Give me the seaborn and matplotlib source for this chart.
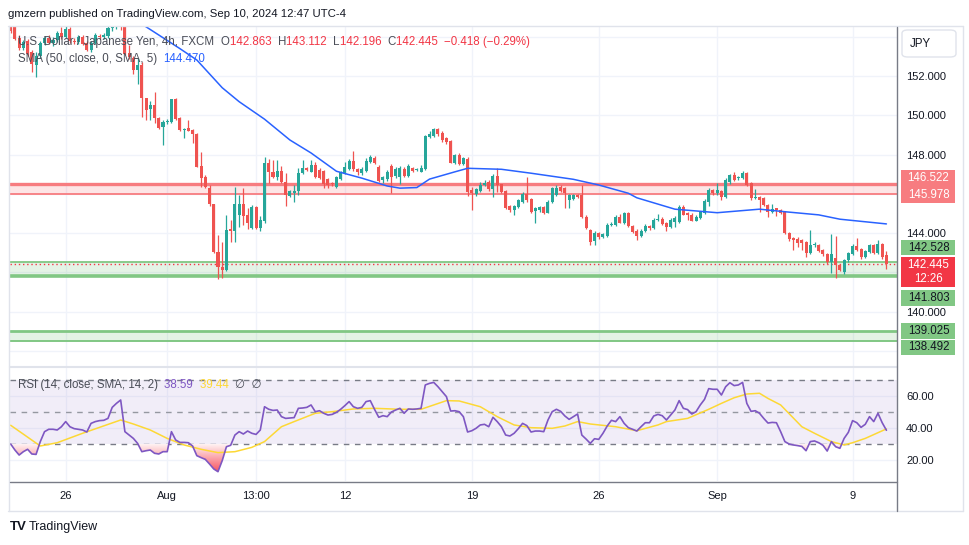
import numpy as np
import matplotlib
matplotlib.use("Agg")
import matplotlib.pyplot as plt
import seaborn as sns
from matplotlib.lines import Line2D
from matplotlib.patches import Rectangle, FancyBboxPatch
from matplotlib.path import Path
from matplotlib.colors import LinearSegmentedColormap
from matplotlib.offsetbox import TextArea, HPacker, AnnotationBbox

sns.set_theme(style="white")
plt.rcParams["font.family"] = ["Liberation Sans", "DejaVu Sans"]

# USD/JPY 4h candles (FXCM)
opens = [
    154.6, 154.5, 153.95, 153.4, 153.8, 153.2, 152.55, 153.0, 153.7, 153.95,
    153.7, 153.85, 154.2, 154.0, 154.4, 153.8, 153.75, 154.0, 153.7, 153.3,
    153.7, 154.05, 154.0, 154.05, 154.45, 154.6, 154.7, 154.5, 153.15, 152.9,
    152.3, 152.56, 150.86, 150.3, 150.5, 149.85, 149.4, 149.65, 149.66, 150.83,
    149.85, 149.25, 149.34, 149.25, 149.05, 147.42, 146.88, 146.32, 145.47, 143.06,
    142.30, 142.13, 144.2, 144.1, 144.93, 145.49, 144.93, 144.25, 145.35, 144.25,
    144.6, 147.56, 147.13, 146.88, 147.15, 146.62, 145.9, 146.05, 146.12, 147.05,
    147.3, 147.13, 147.47, 147.2, 147.18, 146.76, 146.57, 146.37, 146.76, 147.05,
    147.25, 147.67, 147.25, 147.08, 147.18, 147.64, 147.84, 147.39, 146.71, 146.74,
    147.44, 146.91, 146.84, 147.27, 146.91, 147.30, 147.20, 147.13, 147.27, 148.91,
    148.96, 149.29, 149.12, 148.84, 148.71, 147.59, 147.98, 147.52, 147.76, 146.20,
    146.00, 146.16, 146.45, 146.62, 146.23, 146.91, 146.48, 146.15, 145.39, 145.18,
    145.35, 145.61, 146.00, 145.73, 145.13, 145.18, 145.32, 145.05, 145.61, 145.95,
    146.33, 146.28, 145.69, 145.73, 145.95, 145.95, 144.84, 144.16, 143.62, 143.99,
    143.79, 143.86, 144.42, 144.42, 144.84, 144.53, 145.01, 144.37, 144.13, 143.86,
    144.1, 144.35, 144.25, 144.67, 144.71, 144.5, 144.33, 144.59, 144.59, 145.35,
    145.01, 144.93, 144.64, 144.76, 145.01, 145.56, 146.20, 146.03, 146.16, 145.86,
    146.59, 146.96, 146.8, 146.79, 147.08, 146.54, 145.78, 145.86, 145.78, 145.44,
    145.10, 145.27, 145.18, 145.10, 144.03, 143.74, 143.69, 143.65, 143.57, 143.01,
    143.40, 143.40, 143.15, 142.94, 142.55, 142.72, 142.38, 142.04, 142.64, 142.94,
    143.35, 143.18, 142.81, 143.06, 143.40, 143.01, 143.43, 142.863,
]
highs = [
    154.8, 154.7, 154.1, 153.85, 153.9, 153.3, 153.2, 153.8, 154.05, 154.1,
    154.0, 154.3, 154.5, 154.6, 154.5, 153.95, 154.1, 154.1, 153.8, 153.8,
    154.2, 154.15, 154.2, 154.55, 154.8, 154.9, 154.9, 154.7, 153.55, 153.0,
    152.9, 152.7, 150.9, 150.7, 151.2, 149.9, 149.76, 149.8, 150.85, 150.9,
    149.9, 149.35, 149.76, 149.3, 149.1, 148.15, 146.95, 146.45, 145.5, 143.9,
    143.57, 144.93, 144.67, 146.37, 145.95, 146.3, 145.3, 145.45, 145.4, 144.85,
    147.9, 147.75, 147.7, 147.7, 147.4, 147.05, 146.2, 146.45, 147.3, 147.73,
    147.35, 147.73, 147.63, 147.3, 147.2, 146.8, 146.6, 146.9, 147.15, 147.6,
    147.75, 148.2, 147.3, 147.35, 147.8, 148.0, 147.95, 147.45, 146.9, 147.2,
    147.5, 147.35, 147.4, 147.35, 147.5, 147.35, 147.3, 147.45, 149.0, 149.2,
    149.35, 149.35, 149.2, 148.9, 148.75, 148.05, 148.1, 147.9, 147.85, 146.35,
    146.3, 146.6, 146.7, 146.7, 147.0, 147.3, 146.5, 146.2, 145.45, 145.45,
    145.75, 146.1, 146.88, 145.8, 145.35, 145.4, 145.4, 145.7, 146.33, 146.45,
    146.45, 146.35, 146.0, 146.0, 146.0, 146.45, 144.9, 144.2, 144.1, 144.05,
    144.0, 144.5, 144.55, 144.9, 144.95, 145.1, 145.1, 144.4, 144.2, 144.2,
    144.45, 144.4, 144.75, 144.95, 144.8, 144.55, 144.75, 144.85, 145.45, 145.45,
    145.1, 145.0, 144.9, 145.15, 145.75, 146.3, 146.25, 146.54, 146.2, 146.79,
    147.0, 147.1, 146.9, 147.15, 147.12, 146.6, 146.23, 145.9, 145.82, 145.5,
    145.49, 145.3, 145.22, 145.15, 144.08, 143.8, 143.8, 143.7, 143.6, 144.16,
    143.55, 143.45, 143.2, 143.0, 143.96, 143.86, 142.45, 142.7, 143.05, 143.45,
    143.74, 143.25, 143.15, 143.45, 143.45, 143.65, 143.5, 143.112,
]
lows = [
    154.2, 153.85, 153.3, 153.3, 153.0, 152.2, 151.95, 152.9, 153.55, 153.6,
    153.5, 153.75, 153.9, 153.95, 153.7, 153.6, 153.65, 153.55, 153.25, 153.2,
    153.65, 153.9, 153.9, 153.95, 154.3, 154.4, 154.35, 153.05, 152.85, 152.1,
    151.6, 149.93, 149.76, 149.75, 149.6, 149.3, 148.49, 149.55, 149.6, 149.75,
    149.2, 148.86, 149.2, 148.6, 147.35, 146.37, 146.3, 145.4, 143.0, 141.65,
    141.70, 142.05, 143.57, 143.57, 144.3, 144.4, 144.2, 144.2, 144.2, 144.1,
    144.5, 146.54, 146.8, 146.7, 146.54, 145.4, 145.85, 145.6, 145.95, 147.0,
    147.15, 147.1, 146.8, 146.75, 146.28, 146.28, 146.4, 146.3, 146.7, 147.0,
    147.2, 147.15, 146.95, 146.95, 147.1, 147.55, 147.5, 146.6, 146.55, 146.65,
    146.03, 146.8, 146.5, 146.85, 146.85, 147.1, 147.15, 147.1, 147.2, 148.85,
    148.9, 148.95, 148.65, 148.55, 147.55, 147.5, 147.45, 147.45, 145.9, 145.18,
    145.9, 146.1, 146.4, 146.15, 145.86, 146.11, 146.05, 145.25, 145.1, 144.93,
    145.3, 145.55, 145.6, 145.05, 144.50, 145.1, 144.95, 145.0, 145.55, 145.9,
    146.1, 145.27, 145.27, 145.7, 145.8, 144.75, 144.2, 143.40, 143.40, 143.7,
    143.75, 143.8, 144.35, 144.35, 144.5, 144.45, 144.3, 144.0, 143.65, 143.8,
    144.05, 144.15, 144.2, 144.6, 144.4, 144.13, 144.25, 144.3, 144.5, 144.9,
    144.67, 144.6, 144.6, 144.7, 144.95, 145.4, 145.95, 145.95, 145.7, 145.8,
    146.5, 146.65, 146.7, 146.75, 146.4, 145.7, 145.75, 145.1, 145.4, 144.84,
    145.05, 144.85, 144.95, 143.95, 143.6, 143.15, 143.3, 143.15, 142.81, 142.95,
    143.3, 143.05, 142.85, 142.45, 141.96, 141.70, 142.05, 141.9, 142.55, 142.9,
    143.1, 142.7, 142.75, 143.0, 142.95, 142.95, 142.7, 142.196,
]
closes = [
    154.3, 153.9, 153.4, 153.75, 153.1, 152.6, 153.0, 153.7, 153.95, 153.7,
    153.85, 154.2, 154.0, 154.4, 153.8, 153.75, 154.0, 153.6, 153.3, 153.7,
    154.1, 154.0, 154.1, 154.45, 154.6, 154.7, 154.5, 153.12, 152.95, 152.3,
    152.55, 150.86, 150.27, 150.5, 149.85, 149.34, 149.65, 149.7, 150.83, 149.8,
    149.25, 149.32, 149.22, 149.05, 147.39, 146.79, 146.37, 145.47, 143.06, 142.30,
    142.13, 144.16, 144.13, 145.5, 145.49, 144.85, 144.5, 145.35, 144.25, 144.67,
    147.56, 147.13, 146.88, 147.15, 146.62, 145.95, 146.12, 146.12, 147.05, 147.3,
    147.2, 147.47, 146.85, 146.8, 146.50, 146.45, 146.50, 146.84, 147.10, 147.39,
    147.67, 147.25, 147.13, 147.25, 147.69, 147.86, 147.56, 146.67, 146.84, 147.13,
    146.88, 147.25, 147.3, 146.91, 147.44, 147.17, 147.24, 147.34, 148.94, 149.03,
    149.29, 149.03, 148.74, 148.66, 147.59, 147.98, 147.52, 147.81, 146.11, 146.03,
    146.23, 146.45, 146.57, 146.23, 146.91, 146.45, 146.11, 145.30, 145.18, 145.39,
    145.69, 146.00, 145.69, 145.10, 145.27, 145.32, 145.05, 145.61, 146.28, 146.32,
    146.16, 146.03, 145.95, 145.95, 145.86, 144.81, 144.25, 143.57, 144.03, 143.79,
    143.96, 144.42, 144.45, 144.81, 144.54, 145.04, 144.37, 144.08, 143.86, 144.13,
    144.37, 144.25, 144.67, 144.7, 144.47, 144.3, 144.67, 144.76, 145.35, 144.93,
    144.93, 144.64, 144.84, 145.10, 145.66, 146.20, 146.03, 146.20, 145.86, 146.68,
    146.96, 146.71, 146.85, 147.08, 146.45, 145.78, 145.86, 145.69, 145.44, 145.10,
    145.22, 145.18, 145.01, 143.99, 143.69, 143.65, 143.52, 143.52, 143.01, 143.40,
    143.43, 143.11, 142.94, 142.55, 142.94, 142.38, 142.13, 142.64, 142.98, 143.35,
    143.15, 142.81, 143.10, 143.40, 143.01, 143.43, 142.77, 142.445,
]

# SMA(50) smoothed, traced points (candle index, price)
sma_idx = [30, 32, 40, 44, 50, 54, 60, 66, 71, 77, 83, 89, 92, 96, 99, 105, 108,
           116, 123, 133, 139, 146, 148, 157, 167, 177, 183, 191, 196, 207]
sma_val = [154.75, 154.5, 153.39, 152.81, 151.4, 150.69, 149.8, 148.74, 148.08,
           147.15, 146.8, 146.4, 146.29, 146.32, 146.75, 147.12, 147.3, 147.25,
           147.05, 146.74, 146.45, 146.03, 145.8, 145.22, 145.04, 145.22, 145.09,
           144.93, 144.71, 144.47]

# RSI(14) per candle
rsi = [
    30.0, 26.25, 23.1, 25.2, 26.7, 23.75, 23.5, 31.5, 37.7, 39.2,
    39.2, 38.75, 40.8, 44.0, 40.8, 39.6, 39.2, 38.75, 37.5, 42.9,
    44.0, 44.6, 44.8, 46.0, 52.9, 55.4, 57.5, 37.7, 35.6, 33.5,
    30.4, 25.2, 25.8, 26.25, 24.2, 23.75, 25.2, 25.2, 37.7, 32.5,
    31.0, 31.0, 30.8, 28.75, 22.7, 21.5, 20.4, 17.5, 14.4, 12.7,
    19.6, 28.3, 29.2, 35.6, 37.7, 36.25, 38.1, 36.7, 36.0, 38.75,
    53.3, 51.7, 51.0, 51.25, 47.1, 46.0, 46.25, 46.5, 52.3, 52.5,
    52.9, 54.4, 50.2, 50.8, 49.2, 48.1, 48.5, 49.8, 51.7, 54.0,
    56.5, 53.3, 52.3, 52.9, 56.5, 57.1, 51.7, 46.7, 47.7, 47.1,
    50.0, 51.25, 52.3, 49.2, 51.9, 51.7, 51.9, 52.3, 66.9, 67.9,
    68.5, 65.8, 62.7, 59.6, 50.6, 50.8, 50.2, 47.1, 37.5, 38.3,
    39.8, 41.9, 42.3, 40.8, 46.7, 44.0, 40.8, 35.6, 35.0, 36.7,
    39.6, 42.9, 41.5, 37.5, 38.1, 38.1, 37.7, 45.0, 50.2, 51.7,
    50.4, 47.5, 45.4, 47.1, 48.75, 35.6, 33.1, 30.4, 33.3, 32.9,
    36.7, 41.25, 44.8, 44.0, 47.1, 42.9, 40.2, 39.2, 38.1, 40.8,
    43.3, 43.3, 47.5, 48.5, 47.7, 45.0, 48.1, 51.25, 57.1, 52.3,
    51.5, 48.75, 50.2, 54.4, 57.9, 64.6, 64.2, 64.2, 60.6, 65.8,
    68.3, 66.5, 66.9, 68.5, 55.4, 50.4, 50.8, 49.2, 46.0, 43.1,
    43.5, 43.3, 37.7, 31.5, 30.0, 29.4, 29.0, 28.5, 25.8, 31.5,
    31.9, 30.8, 29.2, 25.6, 31.5, 28.3, 27.3, 33.5, 37.3, 44.6,
    43.3, 40.4, 42.3, 47.1, 44.0, 49.2, 43.3, 38.59,
]
# SMA(14) of RSI, traced points
rsi_ma_idx = [0, 7, 11, 17, 21, 26, 29, 33, 37, 41, 45, 49, 53, 57, 60, 64, 67,
              72, 76, 81, 86, 92, 97, 100, 103, 106, 111, 115, 119, 123, 128,
              131, 134, 137, 143, 148, 153, 155, 160, 165, 168, 171, 174, 177,
              179, 182, 187, 190, 194, 197, 199, 202, 207]
rsi_ma = [41.7, 28.75, 30.8, 36.7, 40.4, 45.0, 42.5, 38.75, 33.5, 29.4, 26.7,
          24.6, 25.2, 27.9, 31.5, 40.8, 44.0, 49.2, 50.2, 51.9, 52.3, 51.7, 51.7,
          54.4, 57.1, 56.9, 53.3, 47.1, 41.9, 40.2, 39.8, 41.25, 44.0, 42.5,
          40.8, 38.3, 41.9, 44.0, 46.0, 51.7, 55.4, 58.9, 61.25, 61.7, 58.5,
          54.4, 40.8, 36.7, 31.5, 29.4, 30.8, 33.5, 39.44]

tick_idx = [13, 37, 58, 79, 109, 139, 167, 199]
tick_labels = ["26", "Aug", "13:00", "12", "19", "26", "Sep", "9"]

price_grid = [138, 140, 142, 144, 146, 148, 150, 152, 154]
# levels whose scale label is hidden under a tag / the JPY button
price_hidden = [138, 142, 146, 154]

zone_res = (145.978, 146.522)
zone_sup = (141.803, 142.528)
zone_sup2 = (138.492, 139.025)
last_price = 142.445
countdown = "12:26"
sma_last = 144.470
rsi_last, rsi_ma_last = 38.59, 39.44

UP, DOWN = "#26a69a", "#ef5350"
TXT = "#131722"
GRID = "#f0f3fa"
W, H = 970, 545

fig = plt.figure(figsize=(W / 100, H / 100), dpi=100)
fig.patch.set_facecolor("white")


def fbox(x0, y0, x1, y1):
    return [x0 / W, 1 - y1 / H, (x1 - x0) / W, (y1 - y0) / H]


def fline(x0, y0, x1, y1, color, lw=1.0):
    fig.add_artist(Line2D([x0 / W, x1 / W], [1 - y0 / H, 1 - y1 / H],
                          transform=fig.transFigure, color=color, lw=lw))


ax = fig.add_axes(fbox(10, 27, 897, 366))
ax2 = fig.add_axes(fbox(10, 368, 897, 481), sharex=ax)

# ---- price pane ----
o, h, l, c = (np.array(v) for v in (opens, highs, lows, closes))
idx = np.arange(len(c))
col = np.where(c >= o, UP, DOWN)
ax.vlines(idx, l, h, colors=col, lw=0.9, zorder=4)
ax.bar(idx, np.maximum(np.abs(c - o), 0.04), bottom=np.minimum(o, c),
       width=0.72, color=col, lw=0, zorder=5)

ax.axhspan(*zone_res, color="#f23645", alpha=0.13, lw=0, zorder=1)
ax.axhline(zone_res[1], color="#f77c80", lw=2.4, zorder=2)
ax.axhline(zone_res[0], color="#f77c80", lw=1.3, zorder=2)
ax.axhspan(*zone_sup, color="#4caf50", alpha=0.14, lw=0, zorder=1)
ax.axhline(zone_sup[1], color="#81c784", lw=1.3, zorder=2)
ax.axhline(zone_sup[0], color="#81c784", lw=2.6, zorder=2)
ax.axhspan(*zone_sup2, color="#4caf50", alpha=0.14, lw=0, zorder=1)
ax.axhline(zone_sup2[1], color="#81c784", lw=2.0, zorder=2)
ax.axhline(zone_sup2[0], color="#81c784", lw=1.4, zorder=2)
ax.axhline(last_price, color="#f23645", lw=1, ls=(0, (1, 2)), zorder=3)

sns.lineplot(x=sma_idx, y=sma_val, ax=ax, color="#2962ff", lw=1.1, zorder=6)

ax.set_ylim(137.24, 154.49)
ax.set_yticks(price_grid)
ax.set_yticklabels(["" if p in price_hidden else f"{p:.3f}" for p in price_grid])
ax.yaxis.tick_right()
ax.set_xticks(tick_idx)
ax.tick_params(axis="x", labelbottom=False, length=0)
ax.tick_params(axis="y", length=0, pad=6.5, labelsize=8, labelcolor=TXT)
ax.grid(True, color=GRID, lw=1)
ax.set_axisbelow(True)
ax.set_xlabel("")
ax.set_ylabel("")

# ---- RSI pane ----
r = np.array(rsi)
ax2.axhspan(30, 70, color="#7e57c2", alpha=0.1, lw=0, zorder=1)
for lvl, lc in ((70, "#787b86"), (50, "#9598a1"), (30, "#787b86")):
    ax2.axhline(lvl, color=lc, lw=1, ls=(0, (4, 4)), zorder=2)

fill = ax2.fill_between(idx, r, 30, where=r < 30, interpolate=True,
                        color="none", lw=0)
clip = Path.make_compound_path(*fill.get_paths())
grad = ax2.imshow(np.linspace(0, 1, 256).reshape(-1, 1),
                  cmap=LinearSegmentedColormap.from_list("os", ["#f7525f", "#fff3f3"]),
                  extent=(idx[0], idx[-1], r.min(), 30), origin="lower",
                  aspect="auto", zorder=2)
grad.set_clip_path(clip, transform=ax2.transData)

sns.lineplot(x=rsi_ma_idx, y=rsi_ma, ax=ax2, color="#fdd835", lw=1.1, zorder=3)
sns.lineplot(x=idx, y=r, ax=ax2, color="#7e57c2", lw=1.2, zorder=4)

ax2.set_ylim(6.875, 77.5)
ax2.set_yticks([20, 40, 60])
ax2.yaxis.tick_right()
ax2.yaxis.set_major_formatter("{x:.2f}")
ax2.set_xticks(tick_idx)
ax2.set_xticklabels(tick_labels)
ax2.tick_params(axis="x", length=0, pad=7, labelsize=8, labelcolor=TXT)
ax2.tick_params(axis="y", length=0, pad=6.5, labelsize=8, labelcolor=TXT)
ax2.grid(True, color=GRID, lw=1)
ax2.set_axisbelow(True)
ax2.set_xlabel("")
ax2.set_ylabel("")

ax.set_xlim(-0.16, 209.5)
for a in (ax, ax2):
    for s in a.spines.values():
        s.set_visible(False)

# ---- frame lines ----
fline(8, 26, 963, 26, "#e0e3eb")
fline(9, 26, 9, 511, "#e0e3eb")
fline(963, 26, 963, 511, "#e0e3eb")
fline(8, 511, 963, 511, "#e0e3eb")
fline(10, 367, 897, 367, "#e0e3eb", 1.5)
fline(10, 482, 897, 482, "#787b86")
fline(897, 27, 897, 511, "#787b86")

# ---- price scale tags (positions as TradingView stacks them) ----
price_tags = [
    ("146.522", 178.3, 16.7, "#f77c80", "white"),
    ("145.978", 195.0, 16.7, "#f77c80", "white"),
    ("142.528", 247.5, 15.5, "#81c784", TXT),
    (f"{last_price:.3f}\n{countdown}", 271.7, 30.0, "#f23645", "white"),
    ("141.803", 298.0, 15.5, "#81c784", TXT),
    ("139.025", 330.8, 15.5, "#81c784", TXT),
    ("138.492", 347.5, 15.5, "#81c784", TXT),
]
for txt, yc, hh, fc, tc in price_tags:
    fig.add_artist(Rectangle((901.5 / W, 1 - (yc + hh / 2) / H), 54 / W, hh / H,
                             transform=fig.transFigure, facecolor=fc,
                             edgecolor="none", zorder=10))
    fig.text(928.5 / W, 1 - yc / H, txt, ha="center", va="center", size=8.3,
             color=tc, linespacing=1.25, zorder=11)

fig.add_artist(FancyBboxPatch((902 / W, 1 - 57 / H), 54 / W, 27 / H,
                              boxstyle="round,pad=0,rounding_size=0.006",
                              transform=fig.transFigure, facecolor="white",
                              edgecolor="#e0e3eb", lw=1, zorder=10))
fig.text(910 / W, 1 - 44 / H, "JPY", ha="left", va="center", size=8.3,
         color=TXT, zorder=11)

# ---- header and legends ----
fig.text(8 / W, 1 - 14 / H,
         "gmzern published on TradingView.com, Sep 10, 2024 12:47 UTC-4",
         ha="left", va="center", size=8.2, color=TXT)


def text_row(parts, x, y, size=8.3):
    boxes = [TextArea(t, textprops=dict(color=cc, size=size)) for t, cc in parts]
    pack = HPacker(children=boxes, align="center", pad=0, sep=0)
    ab = AnnotationBbox(pack, (x, H - y), xycoords="figure pixels",
                        box_alignment=(0, 0.5), frameon=False, zorder=12)
    fig.add_artist(ab)


LEG = "#4a4d57"
RED = "#f23645"
chg = closes[-1] - opens[-1]
text_row([("U.S. Dollar / Japanese Yen, 4h, FXCM  ", LEG),
          ("O", LEG), (f"{opens[-1]:.3f}  ", RED),
          ("H", LEG), (f"{highs[-1]:.3f}  ", RED),
          ("L", LEG), (f"{lows[-1]:.3f}  ", RED),
          ("C", LEG), (f"{closes[-1]:.3f}  ", RED),
          (f"\u2212{abs(chg):.3f} (\u2212{abs(chg) / opens[-1] * 100:.2f}%)", RED)],
         18, 42)
text_row([("SMA (50, close, 0, SMA, 5)  ", LEG), (f"{sma_last:.3f}", "#2962ff")],
         18, 59)
text_row([("RSI (14, close, SMA, 14, 2)  ", LEG), (f"{rsi_last:.2f}  ", "#7e57c2"),
          (f"{rsi_ma_last:.2f}  ", "#fdd835"), ("\u2205  \u2205", LEG)],
         18, 385)

# ---- footer logo ----
fig.text(10 / W, 1 - 527 / H, "TV", ha="left", va="center", size=9.5,
         weight="bold", color=TXT)
fig.text(29 / W, 1 - 527 / H, "TradingView", ha="left", va="center", size=9,
         color=TXT)

fig.savefig("out.png", dpi=100)
